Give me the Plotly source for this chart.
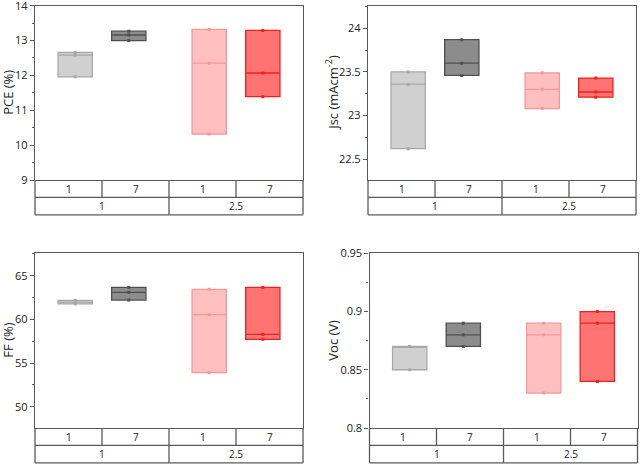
import plotly.graph_objects as go

# ---- data ----
groups_inner = ["1", "7", "1", "7"]
groups_outer = ["1", "2.5"]
positions = [1, 2, 3.5, 4.5]

pce = [[11.96, 12.58, 12.66], [13.00, 13.16, 13.27], [10.32, 12.35, 13.32], [11.39, 12.07, 13.29]]
jsc = [[22.62, 23.36, 23.50], [23.46, 23.60, 23.87], [23.08, 23.30, 23.49], [23.21, 23.27, 23.43]]
ff = [[61.76, 61.98, 62.18], [62.21, 63.09, 63.66], [53.89, 60.53, 63.44], [57.71, 58.28, 63.66]]
voc = [[0.85, 0.87, 0.87], [0.87, 0.88, 0.89], [0.83, 0.88, 0.89], [0.84, 0.89, 0.90]]

fills = ["rgba(200,200,200,0.85)", "rgba(120,120,120,0.85)", "rgba(255,180,180,0.85)", "rgba(255,90,90,0.85)"]
edges = ["#a8a8a8", "#505050", "#f29a9a", "#ee2222"]

W, H = 640, 465
panels = [
    dict(data=pce, title="PCE (%)", rng=[9, 14], dtick=1, x=[35 / W, 303 / W], y=[1 - 180 / H, 1 - 5.7 / H], tx=8),
    dict(data=jsc, title="Jsc (mAcm<sup>-2</sup>)", rng=[22.26, 24.26], dtick=0.5, x=[368 / W, 636 / W], y=[1 - 180 / H, 1 - 5.7 / H], tx=332),
    dict(data=ff, title="FF (%)", rng=[47.56, 67.56], dtick=5, x=[35 / W, 303 / W], y=[1 - 428 / H, 1 - 253.3 / H], tx=8),
    dict(data=voc, title="Voc (V)", rng=[0.8, 0.95], dtick=0.05, x=[369.5 / W, 637.5 / W], y=[1 - 428 / H, 1 - 253.3 / H], tx=333),
]

FONT = "Open Sans"
LINE = "#5a5a5a"

fig = go.Figure()
shapes = []
annotations = []
for i, p in enumerate(panels):
    n = "" if i == 0 else str(i + 1)
    xa, ya = "x" + n, "y" + n
    for j, vals in enumerate(p["data"]):
        fig.add_trace(go.Box(
            x=[positions[j]] * len(vals), y=vals, xaxis=xa, yaxis=ya,
            quartilemethod="exclusive", width=0.64,
            fillcolor=fills[j], line=dict(color=edges[j], width=1.3),
            boxpoints="all", jitter=0, pointpos=0, whiskerwidth=0,
            marker=dict(color=edges[j], size=3, symbol="square"),
            showlegend=False, hoverinfo="y",
        ))
    fig.layout["xaxis" + n] = dict(
        domain=p["x"], anchor=ya, range=[0.25, 5.25], showticklabels=False, ticks="",
        showgrid=False, zeroline=False, showline=True, mirror=True, linecolor=LINE, linewidth=1.3,
        automargin=False,
    )
    fig.layout["yaxis" + n] = dict(
        domain=p["y"], anchor=xa, range=p["rng"], dtick=p["dtick"], showgrid=False, zeroline=False,
        showline=True, mirror=True, linecolor=LINE, linewidth=1.3, automargin=False,
        ticks="outside", ticklen=4, tickcolor=LINE, tickwidth=1, ticklabeloverflow="allow",
        minor=dict(ticks="outside", ticklen=2, dtick=p["dtick"] / 2, tickcolor=LINE),
        tickfont=dict(family=FONT, size=11, color="#222"),
    )
    annotations.append(dict(xref="paper", yref="paper", x=p["tx"] / W, y=sum(p["y"]) / 2, text=p["title"],
                            textangle=-90, showarrow=False, xanchor="center", yanchor="middle",
                            font=dict(family=FONT, size=13, color="#222")))
    xr, yr = xa + " domain", ya + " domain"
    ln = dict(color=LINE, width=1.3)
    # table lines
    for yv in [-0.1, -0.2]:
        shapes.append(dict(type="line", xref=xr, yref=yr, x0=0, x1=1, y0=yv, y1=yv, line=ln))
    for xv in [0, 1]:
        shapes.append(dict(type="line", xref=xr, yref=yr, x0=xv, x1=xv, y0=0, y1=-0.2, line=ln))
    for xv in [0.25, 0.75]:
        shapes.append(dict(type="line", xref=xr, yref=yr, x0=xv, x1=xv, y0=0, y1=-0.1, line=ln))
    shapes.append(dict(type="line", xref=xr, yref=yr, x0=0.5, x1=0.5, y0=0, y1=-0.2, line=ln))
    for k, lab in enumerate(groups_inner):
        annotations.append(dict(xref=xr, yref=yr, x=0.125 + 0.25 * k, y=-0.05, text=lab, showarrow=False,
                                font=dict(family=FONT, size=10, color="#222"), xanchor="center", yanchor="middle"))
    for k, lab in enumerate(groups_outer):
        annotations.append(dict(xref=xr, yref=yr, x=0.25 + 0.5 * k, y=-0.15, text=lab, showarrow=False,
                                font=dict(family=FONT, size=10, color="#222"), xanchor="center", yanchor="middle"))

fig.update_layout(
    width=W, height=H, margin=dict(l=0, r=0, t=0, b=0, autoexpand=False),
    paper_bgcolor="white", plot_bgcolor="white",
    shapes=shapes, annotations=annotations, showlegend=False,
)
fig.write_html("out.html", config={"displayModeBar": False},
               post_script="document.body.style.margin='0';document.body.style.overflow='hidden';")
